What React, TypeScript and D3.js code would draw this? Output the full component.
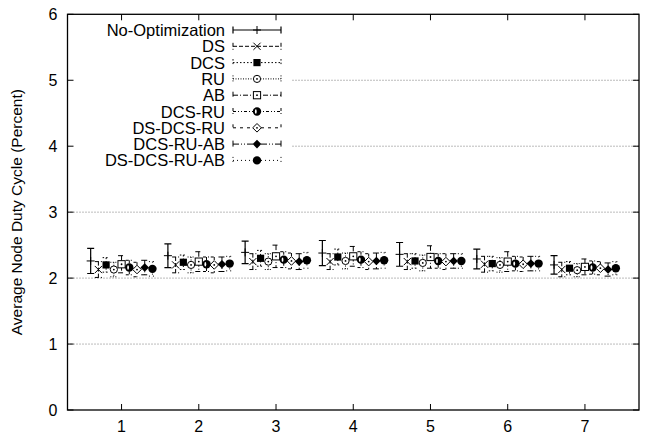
import * as d3 from "d3";

const WIDTH = 645;
const HEIGHT = 437;
const FONT = "'Liberation Sans', Arial, Helvetica, sans-serif";

const groups = [1, 2, 3, 4, 5, 6, 7];
const yTicks = [0, 1, 2, 3, 4, 5, 6];
const gridValues = [1, 2, 3, 4, 5];

const seriesNames = [
    "No-Optimization",
    "DS",
    "DCS",
    "RU",
    "AB",
    "DCS-RU",
    "DS-DCS-RU",
    "DCS-RU-AB",
    "DS-DCS-RU-AB",
];

// mean duty cycle per group
const noOpt = [2.26, 2.34, 2.39, 2.38, 2.36, 2.29, 2.2];
const ds = [2.13, 2.2, 2.25, 2.25, 2.25, 2.21, 2.13];
const dcs = [2.2, 2.24, 2.3, 2.32, 2.26, 2.22, 2.15];
const ru = [2.13, 2.2, 2.25, 2.26, 2.23, 2.2, 2.12];
const ab = [2.21, 2.25, 2.33, 2.33, 2.32, 2.25, 2.17];
const dcsRu = [2.16, 2.21, 2.28, 2.28, 2.26, 2.22, 2.16];
const dsDcsRu = [2.13, 2.2, 2.26, 2.25, 2.25, 2.21, 2.15];
const dcsRuAb = [2.16, 2.21, 2.25, 2.26, 2.26, 2.22, 2.13];
const dsDcsRuAb = [2.14, 2.22, 2.27, 2.27, 2.26, 2.22, 2.15];

// half width of the error bars
const noOptErr = [0.19, 0.18, 0.17, 0.19, 0.18, 0.15, 0.14];
const dsErr = [0.12, 0.12, 0.12, 0.12, 0.12, 0.12, 0.11];
const dcsErr = [0.11, 0.11, 0.12, 0.12, 0.11, 0.11, 0.1];
const ruErr = [0.11, 0.12, 0.12, 0.12, 0.12, 0.11, 0.1];
const abErr = [0.13, 0.15, 0.17, 0.15, 0.17, 0.15, 0.12];
const dcsRuErr = [0.11, 0.11, 0.12, 0.12, 0.11, 0.11, 0.1];
const dsDcsRuErr = [0.11, 0.12, 0.12, 0.12, 0.12, 0.11, 0.1];
const dcsRuAbErr = [0.11, 0.11, 0.12, 0.12, 0.11, 0.11, 0.1];
const dsDcsRuAbErr = [0.11, 0.11, 0.12, 0.12, 0.11, 0.11, 0.1];

const means = [noOpt, ds, dcs, ru, ab, dcsRu, dsDcsRu, dcsRuAb, dsDcsRuAb];
const errs = [noOptErr, dsErr, dcsErr, ruErr, abErr, dcsRuErr, dsDcsRuErr, dcsRuAbErr, dsDcsRuAbErr];

const dashes = [
    "none",
    "4,2",
    "1.5,2",
    "1,1.5",
    "5,2,1,2",
    "3,2,1,2,1,2",
    "3,4",
    "6,2,1,2,1,2",
    "1,3",
];

const MARGIN = { top: 14.3, right: 6, bottom: 27, left: 67.5 };

const Marker = ({ kind, cx, cy }: { kind: number; cx: number; cy: number }) => {
    const r = 3.6;
    switch (kind) {
        case 0:
            return (
                <path d={`M${cx - 4},${cy}H${cx + 4}M${cx},${cy - 4}V${cy + 4}`} stroke="#000" strokeWidth={1} />
            );
        case 1:
            return (
                <path
                    d={`M${cx - r},${cy - r}L${cx + r},${cy + r}M${cx - r},${cy + r}L${cx + r},${cy - r}`}
                    stroke="#000"
                    strokeWidth={1}
                />
            );
        case 2:
            return <rect x={cx - r} y={cy - r} width={2 * r} height={2 * r} fill="#000" />;
        case 3:
            return (
                <g>
                    <circle cx={cx} cy={cy} r={r} fill="#fff" stroke="#000" strokeWidth={1} />
                    <circle cx={cx} cy={cy} r={0.9} fill="#000" />
                </g>
            );
        case 4:
            return (
                <g>
                    <rect x={cx - r} y={cy - r} width={2 * r} height={2 * r} fill="#fff" stroke="#000" strokeWidth={1} />
                    <circle cx={cx} cy={cy} r={0.9} fill="#000" />
                </g>
            );
        case 5:
            return (
                <g>
                    <circle cx={cx} cy={cy} r={4.2} fill="#000" />
                    <ellipse cx={cx - 1.2} cy={cy} rx={0.9} ry={2.2} fill="#fff" />
                </g>
            );
        case 6:
            return (
                <g>
                    <path
                        d={`M${cx},${cy - 4.3}L${cx + 4.3},${cy}L${cx},${cy + 4.3}L${cx - 4.3},${cy}Z`}
                        fill="#fff"
                        stroke="#000"
                        strokeWidth={1}
                    />
                    <circle cx={cx} cy={cy} r={0.9} fill="#000" />
                </g>
            );
        case 7:
            return (
                <path
                    d={`M${cx},${cy - 4.3}L${cx + 4.3},${cy}L${cx},${cy + 4.3}L${cx - 4.3},${cy}Z`}
                    fill="#000"
                />
            );
        default:
            return <circle cx={cx} cy={cy} r={4.2} fill="#000" />;
    }
};

const DutyCycleChart = () => {
    const left = MARGIN.left;
    const right = WIDTH - MARGIN.right;
    const top = MARGIN.top;
    const bottom = HEIGHT - MARGIN.bottom;

    const xScale = d3.scaleLinear().domain([0.3, 7.7]).range([left, right]);
    const yScale = d3.scaleLinear().domain([0, 6]).range([bottom, top]);

    const TICK = 6;
    const CAP = 3.5;
    const legendRight = 225;
    const legendLine = [233, 281];
    const legendTop = 30;
    const legendStep = 16.3;

    return (
        <svg
            width={WIDTH}
            height={HEIGHT}
            style={{ position: "absolute", left: 0, top: 0, background: "#fff" }}
            fontFamily={FONT}
        >
            {/* grid */}
            {gridValues.map((v) => (
                <line
                    key={"g" + v}
                    x1={left}
                    x2={right}
                    y1={yScale(v)}
                    y2={yScale(v)}
                    stroke="#555"
                    strokeWidth={0.8}
                    strokeDasharray="1,2"
                />
            ))}

            {/* legend background hides the grid */}
            <rect x={left + 1} y={top + 6} width={290 - left} height={160} fill="#fff" />

            {/* ticks */}
            {yTicks.map((v) => (
                <g key={"y" + v}>
                    <line x1={left} x2={left + TICK} y1={yScale(v)} y2={yScale(v)} stroke="#000" />
                    <line x1={right} x2={right - TICK} y1={yScale(v)} y2={yScale(v)} stroke="#000" />
                    <text
                        x={left - 10}
                        y={yScale(v)}
                        textAnchor="end"
                        dominantBaseline="central"
                        fontSize={16}
                    >
                        {v}
                    </text>
                </g>
            ))}
            {groups.map((g) => (
                <g key={"x" + g}>
                    <line x1={xScale(g)} x2={xScale(g)} y1={bottom} y2={bottom - TICK} stroke="#000" />
                    <line x1={xScale(g)} x2={xScale(g)} y1={top} y2={top + TICK} stroke="#000" />
                    <text x={xScale(g)} y={bottom + 16} textAnchor="middle" dominantBaseline="central" fontSize={16}>
                        {g}
                    </text>
                </g>
            ))}

            {/* data */}
            {seriesNames.map((name, k) =>
                groups.map((g, i) => {
                    const cx = xScale(g + (k - 4) * 0.1);
                    const cy = yScale(means[k][i]);
                    const hi = yScale(means[k][i] + errs[k][i]);
                    const lo = yScale(means[k][i] - errs[k][i]);
                    return (
                        <g key={name + g}>
                            <path
                                d={`M${cx},${hi}V${lo}M${cx - CAP},${hi}H${cx + CAP}M${cx - CAP},${lo}H${cx + CAP}`}
                                stroke="#000"
                                strokeWidth={k === 0 ? 1.2 : 1}
                                strokeDasharray={dashes[k]}
                                fill="none"
                            />
                            <Marker kind={k} cx={cx} cy={cy} />
                        </g>
                    );
                })
            )}

            {/* legend */}
            {seriesNames.map((name, k) => {
                const ly = legendTop + k * legendStep;
                return (
                    <g key={"l" + name}>
                        <text x={legendRight} y={ly} textAnchor="end" dominantBaseline="central" fontSize={16.5}>
                            {name}
                        </text>
                        <path
                            d={`M${legendLine[0]},${ly}H${legendLine[1]}M${legendLine[0]},${ly - CAP}V${ly + CAP}M${legendLine[1]},${ly - CAP}V${ly + CAP}`}
                            stroke="#000"
                            strokeWidth={k === 0 ? 1.2 : 1}
                            strokeDasharray={dashes[k]}
                            fill="none"
                        />
                        <Marker kind={k} cx={(legendLine[0] + legendLine[1]) / 2} cy={ly} />
                    </g>
                );
            })}

            {/* frame */}
            <rect x={left} y={top} width={right - left} height={bottom - top} fill="none" stroke="#000" strokeWidth={1.3} />

            <text
                transform={`translate(16,${(top + bottom) / 2}) rotate(-90)`}
                textAnchor="middle"
                dominantBaseline="central"
                fontSize={15.5}
            >
                Average Node Duty Cycle (Percent)
            </text>
        </svg>
    );
};

export default function App() {
    return <DutyCycleChart />;
}
